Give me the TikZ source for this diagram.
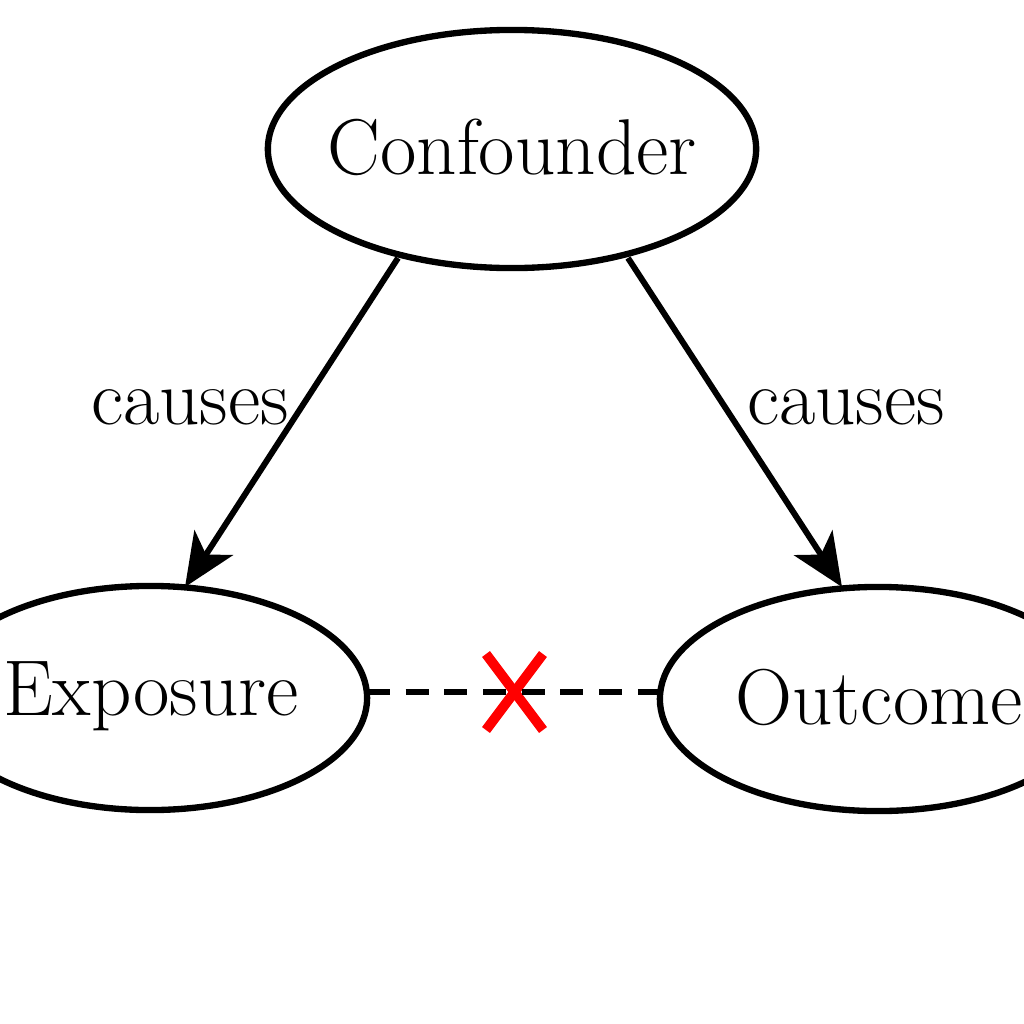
\documentclass[tikz,border=0pt]{standalone}
\usetikzlibrary{shapes.geometric,arrows.meta}
\begin{document}
\begin{tikzpicture}[x=0.01cm,y=-0.01cm,
  nodebox/.style={draw,line width=1.8pt,ellipse,inner sep=0pt},
  txt/.style={font=\fontsize{22.5}{27}\selectfont,inner sep=0pt},
  causal/.style={line width=1.7pt,-{Stealth[length=15pt,width=13pt,inset=4pt]}},
  lbl/.style={font=\fontsize{22.5}{27}\selectfont}]
\useasboundingbox (0,0) rectangle (1024,1024);
\node[nodebox,minimum width=4.88cm,minimum height=2.38cm] (conf) at (512,149) {};
\node[nodebox,minimum width=4.34cm,minimum height=2.24cm] (expo) at (150,698) {};
\node[nodebox,minimum width=4.36cm,minimum height=2.24cm] (outc) at (878,699) {};
\node[txt] (conft) at (512,147) {Confounder};
\node[txt] (expot) at (151,696) {Exposure};
\node[txt] (outct) at (879,697) {Outcome};
\coordinate (a1) at (398,258);
\coordinate (a2) at (185,587);
\coordinate (b1) at (628,258);
\coordinate (b2) at (842,587);
\draw[causal] (a1) -- (a2);
\draw[causal] (b1) -- (b2);
\node[lbl] (l1) at (190,407) {causes};
\node[lbl] (l2) at (846,407) {causes};
\coordinate (x1) at (486,654);
\coordinate (x2) at (543,730);
\coordinate (x3) at (543,654);
\coordinate (x4) at (486,730);
\draw[red,line width=2.8pt] (x1) -- (x2);
\draw[red,line width=2.8pt] (x3) -- (x4);
\coordinate (d1) at (367,692);
\coordinate (d2) at (660,692);
\draw[line width=1.7pt,dash pattern=on 6.5pt off 4.5pt] (d1) -- (d2);
\end{tikzpicture}
\end{document}
